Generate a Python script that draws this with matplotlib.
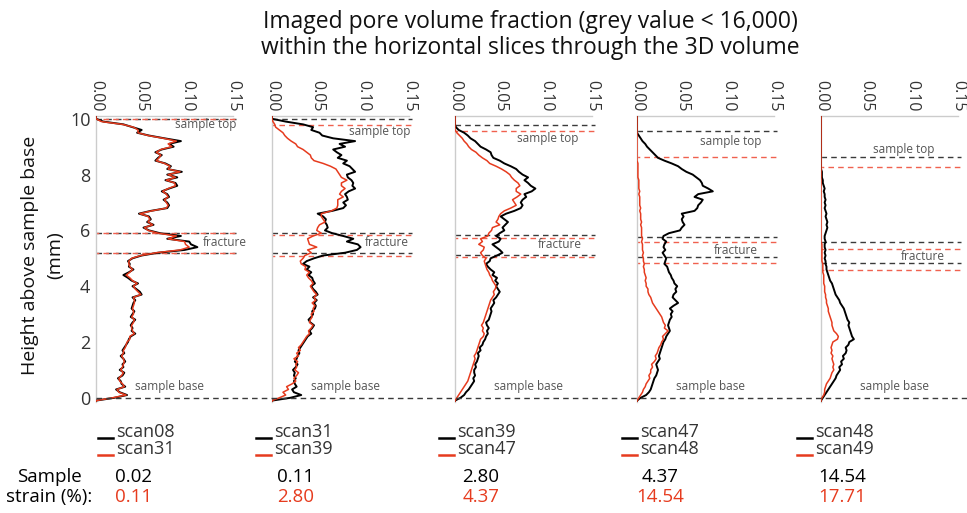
import numpy as np
import matplotlib
matplotlib.use('Agg')
import matplotlib.pyplot as plt
from matplotlib.lines import Line2D
from matplotlib.transforms import blended_transform_factory

plt.rcParams['font.family'] = ['Open Sans', 'DejaVu Sans']

# height of each horizontal slice above the sample base (mm), -0.2 ... 10.1
height = np.arange(-2, 102) / 10.0

# imaged pore volume fraction per slice, one list per scan and panel
# (first two entries are the slices below the base)
p1_black = [0, 0,
    0.020, 0.034, 0.026, 0.022, 0.032, 0.028, 0.027, 0.024, 0.029, 0.031,
    0.026, 0.030, 0.029, 0.032, 0.030, 0.027, 0.031, 0.029, 0.031, 0.033,
    0.035, 0.036, 0.038, 0.043, 0.039, 0.040, 0.038, 0.040, 0.043, 0.038,
    0.040, 0.042, 0.039, 0.040, 0.041, 0.043, 0.040, 0.050, 0.048, 0.044,
    0.040, 0.046, 0.039, 0.035, 0.030, 0.036, 0.041, 0.036, 0.037, 0.035,
    0.040, 0.050, 0.068, 0.097, 0.111, 0.104, 0.102, 0.078, 0.093, 0.070,
    0.058, 0.052, 0.063, 0.056, 0.060, 0.058, 0.047, 0.060, 0.078, 0.080,
    0.078, 0.074, 0.080, 0.078, 0.072, 0.080, 0.089, 0.087, 0.076, 0.089,
    0.078, 0.094, 0.078, 0.082, 0.076, 0.065, 0.068, 0.072, 0.065, 0.072,
    0.085, 0.080, 0.093, 0.075, 0.058, 0.045, 0.050, 0.040, 0.030, 0.008,
    0.000, 0.000]
p1_red = [0, 0,
    0.018, 0.033, 0.025, 0.023, 0.031, 0.029, 0.026, 0.025, 0.028, 0.030,
    0.027, 0.029, 0.030, 0.031, 0.030, 0.028, 0.030, 0.030, 0.032, 0.033,
    0.034, 0.037, 0.037, 0.042, 0.040, 0.039, 0.039, 0.041, 0.042, 0.039,
    0.041, 0.041, 0.040, 0.041, 0.042, 0.042, 0.041, 0.049, 0.046, 0.043,
    0.041, 0.045, 0.040, 0.037, 0.033, 0.037, 0.040, 0.037, 0.036, 0.036,
    0.039, 0.049, 0.066, 0.092, 0.102, 0.098, 0.097, 0.079, 0.088, 0.068,
    0.057, 0.053, 0.062, 0.057, 0.059, 0.057, 0.048, 0.061, 0.077, 0.079,
    0.077, 0.075, 0.079, 0.077, 0.073, 0.079, 0.087, 0.086, 0.077, 0.087,
    0.079, 0.092, 0.079, 0.081, 0.075, 0.066, 0.069, 0.071, 0.066, 0.071,
    0.083, 0.079, 0.088, 0.074, 0.057, 0.046, 0.046, 0.041, 0.029, 0.006,
    0.000, 0.000]
p2_black = [0, 0,
    0.020, 0.032, 0.024, 0.022, 0.027, 0.025, 0.024, 0.026, 0.024, 0.025,
    0.023, 0.026, 0.028, 0.025, 0.027, 0.028, 0.030, 0.029, 0.031, 0.033,
    0.035, 0.037, 0.039, 0.043, 0.041, 0.044, 0.046, 0.042, 0.040, 0.043,
    0.045, 0.044, 0.047, 0.048, 0.046, 0.049, 0.045, 0.050, 0.048, 0.045,
    0.043, 0.047, 0.045, 0.044, 0.040, 0.043, 0.038, 0.041, 0.034, 0.038,
    0.046, 0.056, 0.080, 0.093, 0.097, 0.094, 0.082, 0.089, 0.078, 0.066,
    0.058, 0.061, 0.060, 0.058, 0.059, 0.056, 0.050, 0.066, 0.078, 0.081,
    0.078, 0.083, 0.082, 0.080, 0.084, 0.091, 0.088, 0.089, 0.087, 0.083,
    0.082, 0.091, 0.088, 0.085, 0.078, 0.082, 0.072, 0.076, 0.071, 0.067,
    0.080, 0.074, 0.091, 0.067, 0.055, 0.052, 0.043, 0.045, 0.034, 0.015,
    0.000, 0.000]
p2_red = [0, 0,
    0.008, 0.015, 0.012, 0.018, 0.016, 0.022, 0.026, 0.024, 0.027, 0.029,
    0.025, 0.027, 0.026, 0.028, 0.024, 0.029, 0.027, 0.031, 0.029, 0.032,
    0.034, 0.036, 0.038, 0.041, 0.040, 0.043, 0.045, 0.041, 0.042, 0.044,
    0.043, 0.046, 0.045, 0.047, 0.044, 0.048, 0.046, 0.049, 0.046, 0.044,
    0.042, 0.045, 0.043, 0.040, 0.038, 0.041, 0.036, 0.037, 0.032, 0.031,
    0.034, 0.036, 0.043, 0.039, 0.049, 0.041, 0.040, 0.039, 0.045, 0.054,
    0.049, 0.050, 0.052, 0.058, 0.056, 0.054, 0.054, 0.065, 0.071, 0.072,
    0.072, 0.072, 0.078, 0.074, 0.076, 0.080, 0.076, 0.076, 0.082, 0.076,
    0.074, 0.072, 0.070, 0.064, 0.056, 0.046, 0.043, 0.042, 0.038, 0.034,
    0.028, 0.026, 0.021, 0.017, 0.014, 0.012, 0.008, 0.004, 0.003, 0.001,
    0.000, 0.000]
p3_black = [0, 0,
    0.006, 0.010, 0.012, 0.015, 0.017, 0.019, 0.021, 0.020, 0.022, 0.021,
    0.021, 0.023, 0.022, 0.024, 0.025, 0.026, 0.025, 0.028, 0.027, 0.030,
    0.031, 0.033, 0.034, 0.036, 0.035, 0.037, 0.035, 0.034, 0.037, 0.038,
    0.039, 0.040, 0.039, 0.041, 0.043, 0.042, 0.045, 0.047, 0.049, 0.047,
    0.045, 0.047, 0.044, 0.046, 0.041, 0.043, 0.039, 0.036, 0.034, 0.038,
    0.039, 0.046, 0.052, 0.049, 0.045, 0.041, 0.048, 0.050, 0.045, 0.049,
    0.054, 0.052, 0.055, 0.058, 0.054, 0.050, 0.056, 0.065, 0.072, 0.074,
    0.072, 0.074, 0.078, 0.076, 0.084, 0.088, 0.083, 0.080, 0.076, 0.080,
    0.074, 0.070, 0.067, 0.061, 0.054, 0.049, 0.042, 0.040, 0.039, 0.034,
    0.028, 0.025, 0.022, 0.017, 0.014, 0.010, 0.004, 0.001, 0.000, 0.000,
    0.000, 0.000]
p3_red = [0, 0,
    0.002, 0.004, 0.006, 0.008, 0.010, 0.012, 0.014, 0.015, 0.016, 0.017,
    0.018, 0.019, 0.020, 0.021, 0.022, 0.021, 0.023, 0.024, 0.025, 0.026,
    0.027, 0.028, 0.031, 0.032, 0.030, 0.031, 0.029, 0.031, 0.032, 0.033,
    0.034, 0.035, 0.036, 0.037, 0.038, 0.039, 0.041, 0.043, 0.042, 0.044,
    0.045, 0.043, 0.041, 0.040, 0.038, 0.037, 0.035, 0.034, 0.033, 0.032,
    0.034, 0.030, 0.028, 0.031, 0.032, 0.026, 0.030, 0.028, 0.036, 0.037,
    0.040, 0.041, 0.049, 0.045, 0.047, 0.048, 0.050, 0.054, 0.061, 0.067,
    0.065, 0.063, 0.068, 0.072, 0.067, 0.067, 0.071, 0.069, 0.065, 0.062,
    0.060, 0.056, 0.051, 0.045, 0.038, 0.035, 0.030, 0.026, 0.023, 0.018,
    0.015, 0.013, 0.010, 0.008, 0.005, 0.002, 0.000, 0.000, 0.000, 0.000,
    0.000, 0.000]
p4_black = [0, 0,
    0.004, 0.010, 0.013, 0.015, 0.016, 0.017, 0.018, 0.019, 0.021, 0.022,
    0.023, 0.022, 0.021, 0.023, 0.025, 0.024, 0.025, 0.026, 0.027, 0.028,
    0.029, 0.031, 0.032, 0.034, 0.036, 0.035, 0.034, 0.035, 0.036, 0.038,
    0.037, 0.039, 0.036, 0.040, 0.045, 0.042, 0.039, 0.040, 0.043, 0.042,
    0.044, 0.041, 0.040, 0.038, 0.037, 0.035, 0.034, 0.033, 0.030, 0.031,
    0.032, 0.030, 0.028, 0.031, 0.029, 0.030, 0.032, 0.028, 0.029, 0.035,
    0.047, 0.049, 0.052, 0.050, 0.049, 0.051, 0.049, 0.063, 0.066, 0.067,
    0.070, 0.072, 0.063, 0.067, 0.083, 0.078, 0.072, 0.071, 0.069, 0.065,
    0.061, 0.054, 0.049, 0.045, 0.038, 0.030, 0.023, 0.020, 0.017, 0.014,
    0.011, 0.009, 0.006, 0.004, 0.002, 0.000, 0.000, 0.000, 0.000, 0.000,
    0.000, 0.000]
p4_red = [0, 0,
    0.002, 0.004, 0.006, 0.007, 0.009, 0.010, 0.012, 0.014, 0.013, 0.015,
    0.015, 0.017, 0.016, 0.019, 0.021, 0.020, 0.022, 0.023, 0.024, 0.026,
    0.027, 0.029, 0.028, 0.031, 0.034, 0.030, 0.031, 0.029, 0.028, 0.027,
    0.025, 0.023, 0.021, 0.019, 0.017, 0.016, 0.015, 0.013, 0.012, 0.012,
    0.010, 0.010, 0.009, 0.010, 0.009, 0.008, 0.008, 0.007, 0.008, 0.007,
    0.007, 0.006, 0.007, 0.006, 0.006, 0.006, 0.005, 0.006, 0.005, 0.005,
    0.005, 0.005, 0.004, 0.005, 0.004, 0.004, 0.004, 0.003, 0.004, 0.003,
    0.003, 0.003, 0.003, 0.002, 0.003, 0.002, 0.002, 0.002, 0.002, 0.001,
    0.001, 0.001, 0.001, 0.001, 0.001, 0.000, 0.000, 0.000, 0.000, 0.000,
    0.000, 0.000, 0.000, 0.000, 0.000, 0.000, 0.000, 0.000, 0.000, 0.000,
    0.000, 0.000]
p5_black = [0, 0,
    0.002, 0.004, 0.006, 0.008, 0.010, 0.012, 0.014, 0.016, 0.017, 0.019,
    0.021, 0.020, 0.023, 0.022, 0.025, 0.024, 0.027, 0.028, 0.027, 0.030,
    0.031, 0.036, 0.034, 0.033, 0.032, 0.031, 0.030, 0.031, 0.029, 0.028,
    0.027, 0.026, 0.025, 0.023, 0.021, 0.020, 0.018, 0.016, 0.015, 0.014,
    0.013, 0.012, 0.010, 0.009, 0.008, 0.007, 0.006, 0.006, 0.005, 0.005,
    0.004, 0.005, 0.004, 0.005, 0.004, 0.004, 0.005, 0.004, 0.004, 0.005,
    0.006, 0.007, 0.006, 0.007, 0.006, 0.005, 0.006, 0.005, 0.004, 0.005,
    0.004, 0.005, 0.004, 0.004, 0.003, 0.004, 0.003, 0.002, 0.002, 0.001,
    0.001, 0.001, 0.000, 0.000, 0.000, 0.000, 0.000, 0.000, 0.000, 0.000,
    0.000, 0.000, 0.000, 0.000, 0.000, 0.000, 0.000, 0.000, 0.000, 0.000,
    0.000, 0.000]
p5_red = [0, 0,
    0.001, 0.003, 0.004, 0.004, 0.005, 0.006, 0.008, 0.010, 0.011, 0.012,
    0.014, 0.013, 0.014, 0.013, 0.012, 0.013, 0.011, 0.012, 0.011, 0.012,
    0.013, 0.018, 0.019, 0.017, 0.014, 0.013, 0.012, 0.012, 0.011, 0.010,
    0.009, 0.008, 0.008, 0.007, 0.006, 0.006, 0.005, 0.005, 0.004, 0.004,
    0.004, 0.003, 0.003, 0.003, 0.003, 0.002, 0.002, 0.002, 0.002, 0.001,
    0.001, 0.001, 0.001, 0.001, 0.001, 0.001, 0.000, 0.000, 0.000, 0.000,
    0.000, 0.000, 0.000, 0.000, 0.000, 0.000, 0.000, 0.000, 0.000, 0.000,
    0.000, 0.000, 0.000, 0.000, 0.000, 0.000, 0.000, 0.000, 0.000, 0.000,
    0.000, 0.000, 0.000, 0.000, 0.000, 0.000, 0.000, 0.000, 0.000, 0.000,
    0.000, 0.000, 0.000, 0.000, 0.000, 0.000, 0.000, 0.000, 0.000, 0.000,
    0.000, 0.000]

black_curves = [p1_black, p2_black, p3_black, p4_black, p5_black]
red_curves = [p1_red, p2_red, p3_red, p4_red, p5_red]

scan_black = ['scan08', 'scan31', 'scan39', 'scan47', 'scan48']
scan_red = ['scan31', 'scan39', 'scan47', 'scan48', 'scan49']
strain_black = [0.02, 0.11, 2.80, 4.37, 14.54]
strain_red = [0.11, 2.80, 4.37, 14.54, 17.71]

# sample top and fracture limits picked in each scan (mm)
top_black = [10.0, 10.0, 9.76, 9.57, 8.63]
top_red = [10.0, 9.76, 9.57, 8.63, 8.29]
frac_hi_black = [5.92, 5.90, 5.82, 5.78, 5.57]
frac_hi_red = [5.90, 5.82, 5.72, 5.57, 5.34]
frac_lo_black = [5.18, 5.18, 5.12, 5.04, 4.83]
frac_lo_red = [5.18, 5.10, 5.04, 4.83, 4.59]

RED = '#e63b1e'
W, H = 967, 513

fig = plt.figure(figsize=(W / 100, H / 100), dpi=100)

panel_left = [96, 272, 455, 637, 821]
panel_w = 137
ax_top, ax_bot = 116, 402

top_lbl = [(0.120, 9.80), (0.118, 9.53), (0.102, 9.28), (0.103, 9.18), (0.091, 8.89)]
frac_lbl = [(0.141, 5.55), (0.126, 5.55), (0.115, 5.48), (0.108, 5.27), (0.112, 5.05)]

dash_k = dict(color='#3a3a3a', lw=1.0, ls=(0, (4, 3)), clip_on=False)
dash_r = dict(color='#f0614f', lw=1.0, ls=(2, (4, 3)), clip_on=False)
note = dict(ha='center', va='center', fontsize=8.5, color='#555555')

axes = []
for i in range(5):
    ax = fig.add_axes([panel_left[i] / W, 1 - ax_bot / H, panel_w / W, (ax_bot - ax_top) / H])
    axes.append(ax)
    ax.set_xlim(0, 0.15)
    ax.set_ylim(-0.15, 10.1)

    ax.plot(black_curves[i], height, color='black', lw=1.4, zorder=3)
    ax.plot(red_curves[i], height, color=RED, lw=1.1, zorder=4)

    xs = [0, 0.153]
    for yb, yr in [(top_black[i], top_red[i]), (frac_hi_black[i], frac_hi_red[i]),
                   (frac_lo_black[i], frac_lo_red[i])]:
        ax.plot(xs, [yb, yb], **dash_k)
        ax.plot(xs, [yr, yr], **dash_r)

    ax.text(top_lbl[i][0], top_lbl[i][1], 'sample top', **note)
    ax.text(frac_lbl[i][0], frac_lbl[i][1], 'fracture', **note)
    ax.text(0.081, 0.42, 'sample base', **note)

    ax.xaxis.tick_top()
    ax.set_xticks([0, 0.05, 0.10, 0.15])
    ax.set_xticklabels(['%.2f' % t for t in [0, 0.05, 0.10, 0.15]])
    ax.tick_params(axis='x', length=0, pad=3, labelrotation=-90, labelsize=11.5,
                   labelcolor='#333333')
    for s in ['right', 'bottom']:
        ax.spines[s].set_visible(False)
    for s in ['left', 'top']:
        ax.spines[s].set_color('#cccccc')
        ax.spines[s].set_linewidth(1.0)
    if i == 0:
        ax.set_yticks(range(0, 11, 2))
        ax.tick_params(axis='y', length=0, pad=4, labelsize=13, labelcolor='#333333')
    else:
        ax.set_yticks([])

# base of the sample, one dashed line across all panels
tr = blended_transform_factory(fig.transFigure, axes[0].transData)
fig.add_artist(Line2D([panel_left[0] / W, 1.0], [0, 0], transform=tr,
                      color='#3a3a3a', lw=1.0, ls=(0, (4, 3))))

fig.text(530 / W, 1 - 22 / H, 'Imaged pore volume fraction (grey value < 16,000)',
         ha='center', va='center', fontsize=16.5, color='#111111')
fig.text(530 / W, 1 - 48 / H, 'within the horizontal slices through the 3D volume',
         ha='center', va='center', fontsize=16.5, color='#111111')

fig.text(30 / W, 1 - 255 / H, 'Height above sample base', rotation=90,
         ha='center', va='center', fontsize=14, color='#111111')
fig.text(55 / W, 1 - 255 / H, '(mm)', rotation=90,
         ha='center', va='center', fontsize=14, color='#111111')

# legend under each panel and the strain of each scan
leg_x = [116, 274, 457, 640, 815]
strain_x = [134, 296, 481, 660, 842]
for i in range(5):
    x = leg_x[i]
    fig.add_artist(Line2D([(x - 18) / W, (x - 3) / W], [1 - 438 / H] * 2,
                          color='black', lw=1.8))
    fig.add_artist(Line2D([(x - 18) / W, (x - 3) / W], [1 - 455 / H] * 2,
                          color=RED, lw=1.8))
    fig.text(x / W, 1 - 432 / H, scan_black[i], ha='left', va='center',
             fontsize=13, color='#333333')
    fig.text(x / W, 1 - 449 / H, scan_red[i], ha='left', va='center',
             fontsize=13, color='#333333')
    fig.text(strain_x[i] / W, 1 - 477 / H, '%.2f' % strain_black[i], ha='center',
             va='center', fontsize=13.5, color='black')
    fig.text(strain_x[i] / W, 1 - 497 / H, '%.2f' % strain_red[i], ha='center',
             va='center', fontsize=13.5, color=RED)

fig.text(49 / W, 1 - 477 / H, 'Sample', ha='center', va='center', fontsize=13.5)
fig.text(49 / W, 1 - 497 / H, 'strain (%):', ha='center', va='center', fontsize=13.5)

fig.savefig('out.png', dpi=100)
